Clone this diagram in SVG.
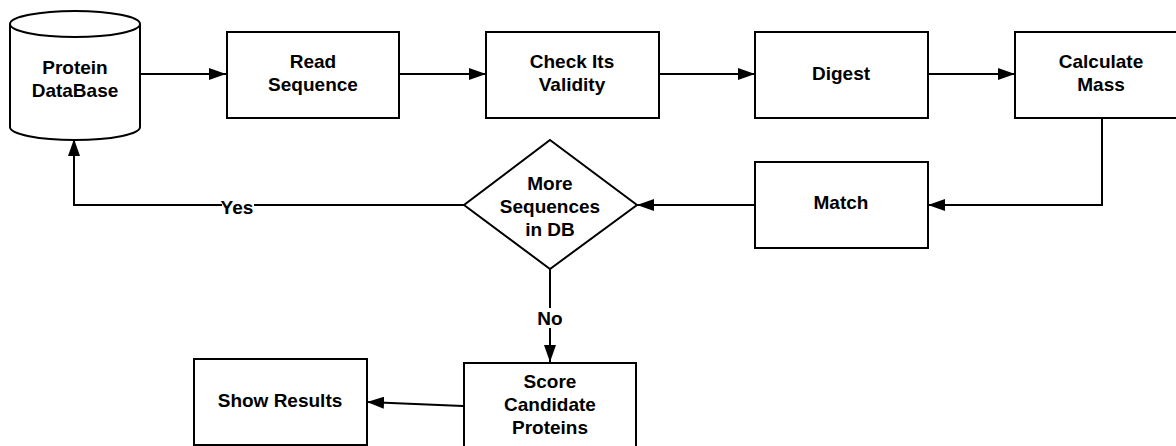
<svg xmlns="http://www.w3.org/2000/svg" width="1176" height="446" viewBox="0 0 1176 446">
<defs>
<marker id="arr" markerWidth="17" markerHeight="12" refX="17" refY="6" orient="auto" markerUnits="userSpaceOnUse">
<path d="M0,0 L17,6 L0,12 Z" fill="#000"/>
</marker>
<style>
.shape{fill:#fff;stroke:#000;stroke-width:2}
.conn{fill:none;stroke:#000;stroke-width:2}
text{font-family:"Liberation Sans",Arial,sans-serif;font-size:19px;font-weight:bold;fill:#000;text-anchor:middle;dominant-baseline:central}
</style>
</defs>
<rect width="1176" height="446" fill="#fff"/>
<g id="connectors">
<path class="conn" d="M140,74 L226,74" marker-end="url(#arr)"/>
<path class="conn" d="M399,74 L486,74" marker-end="url(#arr)"/>
<path class="conn" d="M659,74 L755,74" marker-end="url(#arr)"/>
<path class="conn" d="M928,74 L1015,74" marker-end="url(#arr)"/>
<path class="conn" d="M1102,119 L1102,205 L928,205" marker-end="url(#arr)"/>
<path class="conn" d="M755,205 L637,205" marker-end="url(#arr)"/>
<path class="conn" d="M464,205 L74,205 L74,139" marker-end="url(#arr)"/>
<path class="conn" d="M550,269 L550,362" marker-end="url(#arr)"/>
<path class="conn" d="M463,406 L367,402" marker-end="url(#arr)"/>
<rect x="222" y="196" width="32" height="20" fill="#fff"/>
<text x="237" y="207">Yes</text>
<rect x="535" y="308" width="30" height="20" fill="#fff"/>
<text x="550" y="318">No</text>
</g>
<g id="db">
<path class="shape" d="M10,24 L10,127 A65,13 0 0 0 140,127 L140,24 A65,13 0 0 0 10,24 Z"/>
<path class="conn" d="M10,24 A65,13 0 0 0 140,24"/>
<text x="75" y="67">Protein</text>
<text x="75" y="90">DataBase</text>
</g>
<g id="read">
<rect class="shape" x="227" y="32" width="172" height="86"/>
<text x="313" y="61">Read</text>
<text x="313" y="84">Sequence</text>
</g>
<g id="check">
<rect class="shape" x="486" y="32" width="173" height="86"/>
<text x="572" y="61">Check Its</text>
<text x="572" y="84">Validity</text>
</g>
<g id="digest">
<rect class="shape" x="755" y="32" width="173" height="86"/>
<text x="841" y="73">Digest</text>
</g>
<g id="calc">
<rect class="shape" x="1015" y="32" width="173" height="86"/>
<text x="1101" y="61">Calculate</text>
<text x="1101" y="84">Mass</text>
</g>
<g id="match">
<rect class="shape" x="755" y="162" width="173" height="86"/>
<text x="841" y="202">Match</text>
</g>
<g id="decision">
<polygon class="shape" points="550,140 637,205 550,269 464,205"/>
<text x="550" y="183">More</text>
<text x="550" y="206">Sequences</text>
<text x="550" y="229">in DB</text>
</g>
<g id="score">
<rect class="shape" x="464" y="363" width="172" height="90"/>
<text x="550" y="381">Score</text>
<text x="550" y="404">Candidate</text>
<text x="550" y="427">Proteins</text>
</g>
<g id="show">
<rect class="shape" x="194" y="359" width="173" height="86"/>
<text x="280" y="400">Show Results</text>
</g>
</svg>
